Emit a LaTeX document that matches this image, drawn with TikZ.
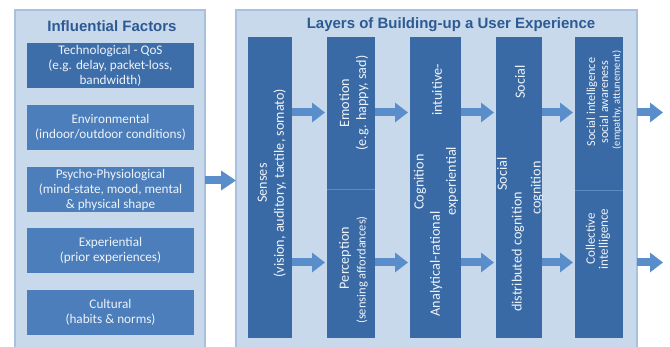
\documentclass[tikz,border=0pt]{standalone}
\usepackage{fontspec}
\setmainfont{Carlito}
\newfontfamily\titlefont{Liberation Sans}
\usetikzlibrary{arrows.meta}
\definecolor{panelfill}{HTML}{C9D9EC}
\definecolor{panelline}{HTML}{A9C1DE}
\definecolor{colfill}{HTML}{3A6AA5}
\definecolor{boxfill}{HTML}{4B7EBA}
\definecolor{boxdark}{HTML}{3D6EA9}
\definecolor{arrowcol}{HTML}{5A8ECA}
\definecolor{titlecol}{HTML}{2D5A92}
\definecolor{txt}{HTML}{EEF3F9}
\definecolor{divcol}{HTML}{5C8BC2}
\tikzset{
  panel/.style={draw=panelline, line width=1.6pt, fill=panelfill, inner sep=0pt, outer sep=0pt, anchor=north west},
  factor/.style={fill=boxfill, minimum width=167pt, minimum height=45pt, inner sep=0pt, outer sep=0pt,
    text=txt, align=center, font=\fontsize{13.2}{15}\selectfont},
  layer/.style={fill=colfill, inner sep=0pt, outer sep=0pt},
  coltext/.style={rotate=90, text=txt, align=center, inner sep=0pt, font=\fontsize{14.2}{17}\selectfont},
  paneltitle/.style={text=titlecol, font=\titlefont\bfseries\fontsize{15}{17}\selectfont},
  flow/.style={draw=arrowcol, line width=8pt, -{Triangle[length=13pt, width=19pt]}},
  bigflow/.style={draw=arrowcol, line width=8pt, -{Triangle[length=15pt, width=19pt]}},
  divider/.style={draw=divcol, line width=0.6pt}
}
\begin{document}
\begin{tikzpicture}[x=1pt, y=-1pt]
\clip (0,0) rectangle (670,347);
\fill[white] (0,0) rectangle (670,347);

% panels
\node[panel, minimum width=190pt, minimum height=350pt] (lp) at (15,10) {};
\node[panel, minimum width=401pt, minimum height=350pt] (rp) at (236,10) {};
\node[paneltitle] (lt) at (112,26.5) {Influential Factors};
\node[paneltitle] (rt) at (451,25) {Layers of Building-up a User Experience};

% influential factors
\node[factor, fill=boxdark] (f1) at (110.5,65.5) {Technological - QoS\\(e.g. delay, packet-loss,\\bandwidth)};
\node[factor] (f2) at (110.5,127.5) {Environmental\\(indoor/outdoor conditions)};
\node[factor] (f3) at (110.5,189.5) {Psycho-Physiological\\(mind-state, mood, mental\\\& physical shape};
\node[factor] (f4) at (110.5,250.5) {Experiential\\(prior experiences)};
\node[factor] (f5) at (110.5,312.5) {Cultural\\(habits \& norms)};

% layer columns
\node[layer, minimum width=44pt, minimum height=301pt] (sen) at (270,187.5) {};
\node[layer, minimum width=48pt, minimum height=152pt] (emo) at (351,113) {};
\node[layer, minimum width=48pt, minimum height=149pt] (per) at (351,263.5) {};
\node[layer, minimum width=51pt, minimum height=301pt] (cog) at (435.5,187.5) {};
\node[layer, minimum width=46pt, minimum height=301pt] (soc) at (519,187.5) {};
\node[layer, minimum width=48pt, minimum height=153pt] (si) at (599,113.5) {};
\node[layer, minimum width=48pt, minimum height=148pt] (ci) at (599,264) {};
\draw[divider] (emo.south west) -- (emo.south east);
\draw[divider] (si.south west) -- (si.south east);

% column texts
\node[coltext] (tsen) at (272,183) {Senses\\(vision, auditory, tactile, somato)};
\node[coltext] (temo) at (354,103) {Emotion\\(e.g. happy, sad)};
\node[coltext] (tper1) at (345,258) {Perception};
\node[coltext, font=\fontsize{12.5}{14}\selectfont] (tper2) at (362,270) {(sensing affordances)};
\node[coltext] (tcog1) at (420,182) {Cognition};
\node[coltext] (tcog2) at (436,264) {Analytical-rational};
\node[coltext] (tcog3) at (437,90) {intuitive-};
\node[coltext] (tcog4) at (452,181) {experiential};
\node[coltext] (tsoc1) at (520,82) {Social};
\node[coltext] (tsoc2) at (502,174) {Social};
\node[coltext] (tsoc3) at (518,252) {distributed cognition};
\node[coltext] (tsoc4) at (537,188) {cognition};
\node[coltext, font=\fontsize{12.2}{12}\selectfont] (tsi1) at (592,102) {Social intelligence};
\node[coltext, font=\fontsize{12.2}{12}\selectfont] (tsi2) at (604,102) {social awareness};
\node[coltext, font=\fontsize{10.5}{10}\selectfont] (tsi3) at (617,100) {(empathy, attunement)};
\node[coltext, font=\fontsize{13}{13}\selectfont] (tci) at (598,239) {Collective\\intelligence};

% rows for arrows
\coordinate (r0) at (0,180.5);
\coordinate (r1) at (0,112.5);
\coordinate (r2) at (0,262.5);
\coordinate (o1) at (663,112.5);
\coordinate (o2) at (663,262.5);

\draw[bigflow] (lp.east |- r0) -- (rp.west |- r0);
\draw[flow, shorten >=2pt] (sen.east |- r1) -- (emo.west |- r1);
\draw[flow, shorten >=2pt] (sen.east |- r2) -- (per.west |- r2);
\draw[flow, shorten >=2pt] (emo.east |- r1) -- (cog.west |- r1);
\draw[flow, shorten >=2pt] (per.east |- r2) -- (cog.west |- r2);
\draw[flow, shorten >=2pt] (cog.east |- r1) -- (soc.west |- r1);
\draw[flow, shorten >=2pt] (cog.east |- r2) -- (soc.west |- r2);
\draw[flow, shorten >=2pt] (soc.east |- r1) -- (si.west |- r1);
\draw[flow, shorten >=2pt] (soc.east |- r2) -- (ci.west |- r2);
\draw[flow] (rp.east |- r1) -- (o1);
\draw[flow] (rp.east |- r2) -- (o2);
\end{tikzpicture}
\end{document}
